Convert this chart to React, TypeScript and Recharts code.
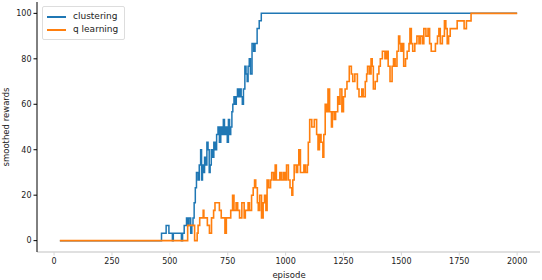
import React from "react";
import { LineChart, Line, XAxis, YAxis, Legend } from "recharts";

// step points (episode, smoothed reward)
const clusteringEpisodes = [
  25, 464, 484, 496, 511, 515, 550, 555, 562, 572, 578, 583, 590, 595, 600, 605, 610, 615, 622, 627,
  633, 637, 641, 646, 650, 655, 660, 665, 670, 674, 679, 684, 690, 696, 702, 708, 714, 720, 726, 731,
  736, 742, 748, 753, 758, 763, 768, 772, 777, 782, 787, 792, 797, 802, 808, 813, 818, 824, 829, 834,
  838, 843, 848, 855, 862, 868, 877, 886, 895, 2000,
];
const clusteringRewards = [
  0, 3.3, 6.7, 3.3, 0, 3.3, 0, 3.3, 6.7, 10, 6.7, 10, 3.3, 6.7, 10, 16.7, 23.3, 30, 26.7, 33.3,
  40, 26.7, 33.3, 30, 36.7, 33.3, 43.3, 40, 30, 33.3, 40, 36.7, 43.3, 40, 46.7, 50, 43.3, 50, 46.7, 53.3,
  46.7, 50, 43.3, 53.3, 46.7, 50, 56.7, 60, 63.3, 60, 63.3, 66.7, 63.3, 66.7, 63.3, 60, 66.7, 76.7, 73.3, 70,
  76.7, 80, 73.3, 86.7, 83.3, 86.7, 93.3, 96.7, 100, 100,
];

const qEpisodes = [
  25, 577, 607, 618, 622, 629, 632, 644, 647, 662, 671, 674, 680, 683, 689, 695, 707, 714, 722, 732,
  738, 744, 763, 771, 777, 786, 793, 801, 811, 821, 826, 838, 844, 853, 860, 866, 871, 878, 882, 888,
  896, 903, 909, 915, 920, 927, 935, 940, 948, 955, 960, 975, 982, 990, 997, 1004, 1012, 1019, 1027, 1031,
  1037, 1046, 1052, 1057, 1064, 1079, 1086, 1094, 1098, 1104, 1113, 1124, 1134, 1140, 1146, 1153, 1161, 1165, 1171, 1177,
  1183, 1190, 1198, 1202, 1210, 1216, 1225, 1231, 1235, 1243, 1250, 1257, 1265, 1275, 1284, 1290, 1299, 1310, 1317, 1329,
  1335, 1344, 1350, 1354, 1362, 1369, 1374, 1379, 1387, 1396, 1403, 1409, 1418, 1429, 1436, 1443, 1451, 1460, 1466, 1473,
  1481, 1488, 1493, 1498, 1504, 1510, 1518, 1525, 1533, 1537, 1543, 1549, 1558, 1567, 1576, 1582, 1591, 1597, 1606, 1615,
  1622, 1629, 1647, 1656, 1662, 1668, 1677, 1686, 1692, 1698, 1704, 1711, 1741, 1771, 1781, 1801, 2000,
];
const qRewards = [
  0, 6.7, 0, 3.3, 6.7, 10, 10, 13.3, 10, 6.7, 3.3, 3.3, 10, 10, 13.3, 16.7, 16.7, 13.3, 10, 10,
  3.3, 10, 13.3, 20, 13.3, 16.7, 13.3, 10, 16.7, 10, 13.3, 16.7, 13.3, 20, 23.3, 26.7, 23.3, 16.7, 13.3, 20,
  10, 16.7, 20, 13.3, 26.7, 23.3, 26.7, 30, 26.7, 33.3, 26.7, 30, 26.7, 30, 26.7, 33.3, 26.7, 23.3, 20, 26.7,
  33.3, 30, 33.3, 40, 30, 33.3, 30, 33.3, 43.3, 53.3, 50, 53.3, 46.7, 40, 46.7, 43.3, 36.7, 46.7, 60, 56.7,
  66.7, 56.7, 50, 56.7, 53.3, 56.7, 63.3, 60, 66.7, 56.7, 63.3, 66.7, 70, 76.7, 73.3, 70, 73.3, 66.7, 63.3, 66.7,
  63.3, 70, 73.3, 76.7, 73.3, 80, 76.7, 66.7, 70, 73.3, 76.7, 80, 83.3, 80, 83.3, 76.7, 70, 76.7, 80, 76.7,
  83.3, 90, 86.7, 83.3, 86.7, 76.7, 80, 83.3, 86.7, 93.3, 86.7, 83.3, 86.7, 90, 86.7, 90, 86.7, 93.3, 90, 93.3,
  86.7, 83.3, 86.7, 90, 93.3, 86.7, 90, 96.7, 93.3, 86.7, 90, 93.3, 96.7, 93.3, 96.7, 100, 100,
];

const xTicks = [0, 250, 500, 750, 1000, 1250, 1500, 1750, 2000];
const yTicks = [0, 20, 40, 60, 80, 100];

const clusteringData = clusteringEpisodes.map((e, i) => ({ episode: e, reward: clusteringRewards[i] }));
const qData = qEpisodes.map((e, i) => ({ episode: e, reward: qRewards[i] }));

const FONT = "DejaVu Sans, sans-serif";
const xDomain = [-73.75, 2098.75];
const yDomain = [-5, 105];

const LegendBox = () => (
  <div
    style={{
      border: "1px solid #ddd",
      borderRadius: 2,
      background: "#fff",
      padding: "3px 6px 3px 4px",
      fontFamily: FONT,
      fontSize: 9,
      color: "#222",
      lineHeight: "13px",
    }}
  >
    {[
      ["clustering", "#1f77b4"],
      ["q learning", "#ff7f0e"],
    ].map(([name, color]) => (
      <div key={name} style={{ display: "flex", alignItems: "center" }}>
        <span style={{ display: "inline-block", width: 19, height: 2, background: color, marginRight: 7 }} />
        {name}
      </div>
    ))}
  </div>
);

const YLabel = () => (
  <text x={6} y={127} transform="rotate(-90, 6, 127)" textAnchor="middle" dominantBaseline="central"
    fontFamily={FONT} fontSize={8.5} fill="#222">
    smoothed rewards
  </text>
);

const XLabel = () => (
  <text x={289} y={275} textAnchor="middle" dominantBaseline="central" fontFamily={FONT} fontSize={8.5} fill="#222">
    episode
  </text>
);

const App = () => {
  return (
    <div style={{ position: "absolute", left: 0, top: 0, width: 542, height: 280, background: "#fff" }}>
      <LineChart width={542} height={280} margin={{ top: 2, right: 2, left: 0, bottom: 0 }}>
        <XAxis
          dataKey="episode"
          type="number"
          domain={xDomain}
          ticks={xTicks}
          allowDataOverflow
          height={28}
          tickSize={3.5}
          tickMargin={3}
          axisLine={{ stroke: "#d6d6d6", strokeWidth: 1.5 }}
          tickLine={{ stroke: "#d6d6d6" }}
          tick={{ fontFamily: FONT, fontSize: 8, fill: "#222" }}
          label={<XLabel />}
        />
        <XAxis xAxisId="top" orientation="top" type="number" domain={xDomain} height={0} tick={false}
          tickLine={false} axisLine={{ stroke: "#000" }} />
        <YAxis
          type="number"
          domain={yDomain}
          ticks={yTicks}
          allowDataOverflow
          width={37}
          tickSize={3.5}
          tickMargin={2}
          axisLine={{ stroke: "#000" }}
          tickLine={{ stroke: "#000" }}
          tick={{ fontFamily: FONT, fontSize: 8, fill: "#222" }}
          label={<YLabel />}
        />
        <YAxis yAxisId="right" orientation="right" type="number" domain={yDomain} width={0} tick={false}
          tickLine={false} axisLine={{ stroke: "#000" }} />
        <Line data={clusteringData} dataKey="reward" name="clustering" type="stepAfter" stroke="#1f77b4"
          strokeWidth={1.5} dot={false} isAnimationActive={false} />
        <Line data={qData} dataKey="reward" name="q learning" type="stepAfter" stroke="#ff7f0e"
          strokeWidth={1.6} dot={false} isAnimationActive={false} />
        <Legend layout="vertical" align="center" verticalAlign="middle" content={<LegendBox />}
          wrapperStyle={{ left: 42, top: 6, width: "auto", height: "auto" }} />
      </LineChart>
    </div>
  );
};

export default App;
